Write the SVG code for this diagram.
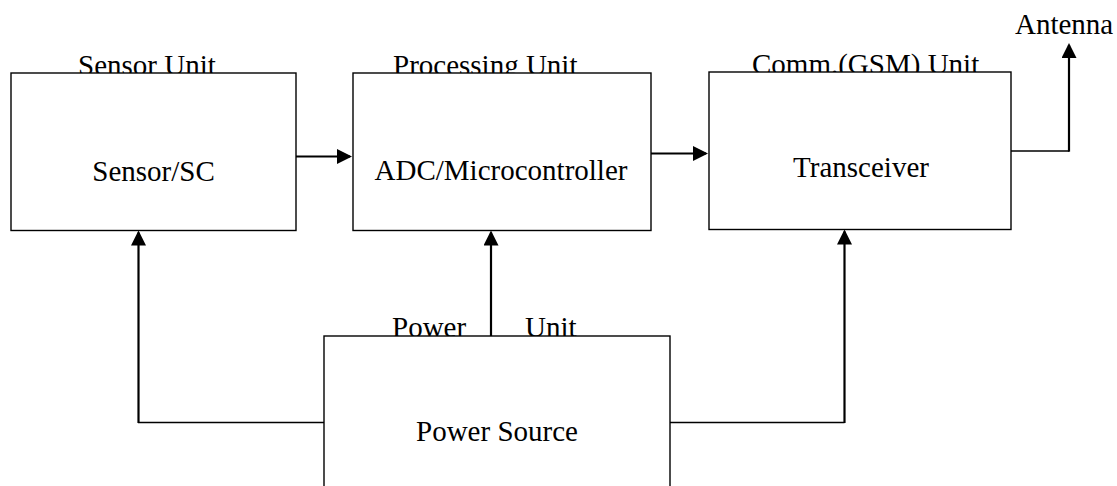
<svg xmlns="http://www.w3.org/2000/svg" width="1117" height="486" viewBox="0 0 1117 486">
  <style>
    .box { fill: #ffffff; stroke: #000000; stroke-width: 1.4; }
    .lbl { font-family: "Liberation Serif", "Times New Roman", serif; font-size: 29px; fill: #000000; }
    .mid { text-anchor: middle; }
    .wire { fill: none; stroke: #000000; stroke-width: 1.4; }
    .shaft { fill: none; stroke: #000000; stroke-width: 2.2; marker-end: url(#head); }
  </style>
  <defs>
    <marker id="head" viewBox="0 0 15 15" refX="13" refY="7.5" markerWidth="15" markerHeight="15" markerUnits="userSpaceOnUse" orient="auto">
      <path d="M0,0 L15,7.5 L0,15 z" fill="#000000"/>
    </marker>
  </defs>
  <rect width="1117" height="486" fill="#ffffff"/>

  <!-- unit captions sit behind the boxes, so the box tops trim their lower edge -->
  <g id="captions">
    <text class="lbl" x="78" y="75">Sensor Unit</text>
    <text class="lbl" x="393" y="75">Processing Unit</text>
    <text class="lbl" x="752" y="74">Comm.(GSM) Unit</text>
    <text class="lbl" x="392" y="337">Power</text>
    <text class="lbl" x="525" y="337">Unit</text>
  </g>

  <g id="sensor">
    <rect class="box" x="11" y="73" width="285" height="157.5"/>
    <text class="lbl mid" x="153.5" y="181">Sensor/SC</text>
  </g>

  <g id="processing">
    <rect class="box" x="353" y="73" width="298" height="157.5"/>
    <text class="lbl mid" x="501" y="179.5">ADC/Microcontroller</text>
  </g>

  <g id="transceiver">
    <rect class="box" x="709" y="72" width="302" height="157.5"/>
    <text class="lbl mid" x="861" y="177">Transceiver</text>
  </g>

  <g id="antenna">
    <text class="lbl" x="1015" y="34">Antenna</text>
  </g>

  <g id="power">
    <rect class="box" x="324" y="336" width="346" height="170"/>
    <text class="lbl mid" x="497" y="441">Power Source</text>
  </g>

  <g id="connectors">
    <!-- signal path -->
    <path class="shaft" d="M296,156.5 H350"/>
    <path class="shaft" d="M651,153.5 H706"/>
    <!-- transceiver to antenna -->
    <path class="wire" d="M1011,151 H1069"/>
    <path class="shaft" d="M1069,151.7 V45"/>
    <!-- power distribution -->
    <path class="shaft" d="M491,336 V232.5"/>
    <path class="wire" d="M324,422.5 H138"/>
    <path class="shaft" d="M138.5,423 V232.5"/>
    <path class="wire" d="M670,422.5 H844.5"/>
    <path class="shaft" d="M844.5,423 V231.5"/>
  </g>
</svg>
